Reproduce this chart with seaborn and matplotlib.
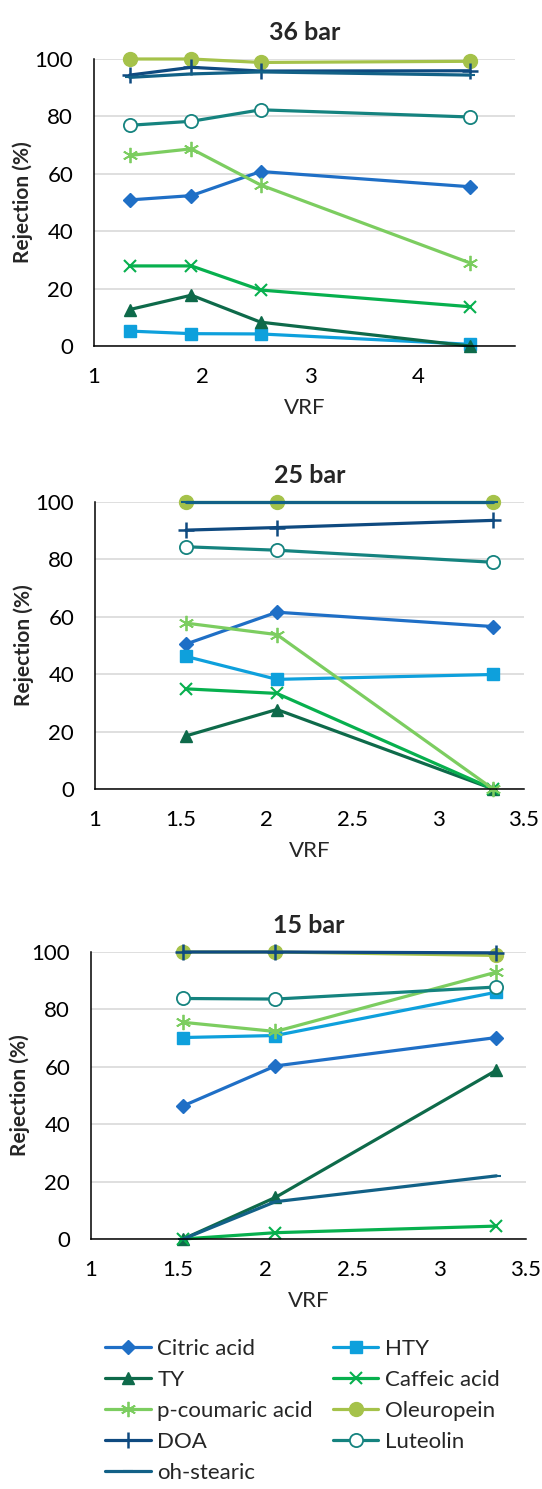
#!/usr/bin/env python3
# Rejection of olive mill compounds vs VRF at three pressures

import pandas as pd
import matplotlib
matplotlib.use("Agg")
import matplotlib.pyplot as plt
import seaborn as sns

compounds = ["Citric acid", "HTY", "TY", "Caffeic acid", "p-coumaric acid",
             "Oleuropein", "DOA", "Luteolin", "oh-stearic"]

# 36 bar
vrf_36 = [1.33, 1.90, 2.54, 4.47]
rej_36 = {
    "Citric acid": [50.9, 52.4, 60.8, 55.5],
    "HTY": [5.2, 4.3, 4.2, 0.6],
    "TY": [12.7, 17.7, 8.3, 0.0],
    "Caffeic acid": [27.9, 27.9, 19.5, 13.7],
    "p-coumaric acid": [66.4, 68.7, 56.1, 29.0],
    "Oleuropein": [100.0, 100.0, 98.8, 99.2],
    "DOA": [94.4, 97.1, 95.8, 95.9],
    "Luteolin": [76.9, 78.3, 82.3, 79.8],
    "oh-stearic": [93.6, 94.8, 95.5, 94.4],
}

# 25 bar
vrf_25 = [1.53, 2.06, 3.32]
rej_25 = {
    "Citric acid": [50.5, 61.6, 56.6],
    "HTY": [46.2, 38.2, 39.9],
    "TY": [18.5, 27.7, 0.0],
    "Caffeic acid": [34.9, 33.3, 0.0],
    "p-coumaric acid": [57.8, 53.8, 0.0],
    "Oleuropein": [100.0, 100.0, 100.0],
    "DOA": [90.2, 91.1, 93.6],
    "Luteolin": [84.4, 83.2, 79.0],
    "oh-stearic": [100.0, 100.0, 100.0],
}

# 15 bar
vrf_15 = [1.53, 2.06, 3.33]
rej_15 = {
    "Citric acid": [46.4, 60.3, 70.2],
    "HTY": [70.2, 70.9, 86.0],
    "TY": [0.0, 14.5, 58.8],
    "Caffeic acid": [0.0, 2.2, 4.5],
    "p-coumaric acid": [75.5, 72.3, 93.0],
    "Oleuropein": [100.0, 100.0, 98.8],
    "DOA": [100.0, 100.0, 99.7],
    "Luteolin": [83.8, 83.6, 87.8],
    "oh-stearic": [0.0, 13.0, 22.0],
}

ticks_36 = [1, 2, 3, 4]
ticks_low = [1, 1.5, 2, 2.5, 3, 3.5]
ticklabels_low = ["1", "1.5", "2", "2.5", "3", "3.5"]

colors = {
    "Citric acid": "#1f6fc6",
    "HTY": "#0ea0dc",
    "TY": "#0e6a4a",
    "Caffeic acid": "#07b04e",
    "p-coumaric acid": "#7ccd60",
    "Oleuropein": "#a5c24a",
    "DOA": "#0f4a80",
    "Luteolin": "#15837f",
    "oh-stearic": "#126187",
}
# (marker, markersize, markeredgewidth)
markers = {
    "Citric acid": ("D", 7.5, 1),
    "HTY": ("s", 8.5, 1),
    "TY": ("^", 9, 1),
    "Caffeic acid": ("x", 9, 1.5),
    "p-coumaric acid": ((6, 2, 0), 11, 1.3),
    "Oleuropein": ("o", 10, 1),
    "DOA": ("+", 11, 1.8),
    "Luteolin": ("o", 9.5, 1.3),
    "oh-stearic": ("_", 7, 1.5),
}


def long_df(vrf, rej):
    rows = []
    for c in compounds:
        for x, y in zip(vrf, rej[c]):
            rows.append({"compound": c, "VRF": x, "Rejection": y})
    return pd.DataFrame(rows)


def draw(ax, df, title, xlim, ticks, ticklabels):
    for c in compounds:
        sub = df[df["compound"] == c]
        m, ms, mew = markers[c]
        face = "white" if c == "Luteolin" else colors[c]
        sns.lineplot(data=sub, x="VRF", y="Rejection", ax=ax, color=colors[c],
                     linewidth=2.3, marker=m, markersize=ms, markeredgewidth=mew,
                     markerfacecolor=face, markeredgecolor=colors[c],
                     clip_on=False, label=c, legend=False)
    ax.set_xlim(*xlim)
    ax.set_ylim(0, 100)
    ax.set_yticks([0, 20, 40, 60, 80, 100])
    ax.set_xticks(ticks)
    ax.set_xticklabels(ticklabels)
    ax.grid(axis="y", color="#d9d9d9", linewidth=1.2)
    ax.grid(axis="x", visible=False)
    ax.set_axisbelow(True)
    for s in ["top", "right"]:
        ax.spines[s].set_visible(False)
    for s in ["left", "bottom"]:
        ax.spines[s].set_color("black")
        ax.spines[s].set_linewidth(1.1)
    ax.tick_params(length=0, pad=15, labelsize=16, colors="black")
    ax.set_title(title, fontsize=18, fontweight="bold", pad=14)
    ax.set_xlabel("VRF", fontsize=16, labelpad=8)
    ax.set_ylabel("Rejection (%)", fontsize=15, fontweight="bold", labelpad=1)


def main():
    sns.set_theme(style="white")
    plt.rcParams["font.family"] = ["Lato", "DejaVu Sans"]

    fig = plt.figure(figsize=(5.42, 14.89), dpi=100)
    W, H = 542, 1489

    def box(left, right, top, bottom):
        return [left / W, 1 - bottom / H, (right - left) / W, (bottom - top) / H]

    ax1 = fig.add_axes(box(94, 515, 59, 346))
    ax2 = fig.add_axes(box(95, 524, 502, 789))
    ax3 = fig.add_axes(box(91, 526, 952, 1239))

    draw(ax1, long_df(vrf_36, rej_36), "36 bar", (1, 4.89),
         ticks_36, [str(t) for t in ticks_36])
    draw(ax2, long_df(vrf_25, rej_25), "25 bar", (1, 3.5), ticks_low, ticklabels_low)
    draw(ax3, long_df(vrf_15, rej_15), "15 bar", (1, 3.5), ticks_low, ticklabels_low)

    handles, labels = ax1.get_legend_handles_labels()
    lookup = dict(zip(labels, handles))
    order = ["Citric acid", "TY", "p-coumaric acid", "DOA", "oh-stearic",
             "HTY", "Caffeic acid", "Oleuropein", "Luteolin"]
    fig.legend([lookup[o] for o in order], order, ncol=2, frameon=False,
               loc="upper left", bbox_to_anchor=(105 / W, 1 - 1339 / H),
               borderpad=0, borderaxespad=0, fontsize=16, handlelength=2.05,
               handletextpad=0.3, columnspacing=0.9, labelspacing=0.49)

    fig.savefig("out.png", dpi=100)


if __name__ == "__main__":
    main()
